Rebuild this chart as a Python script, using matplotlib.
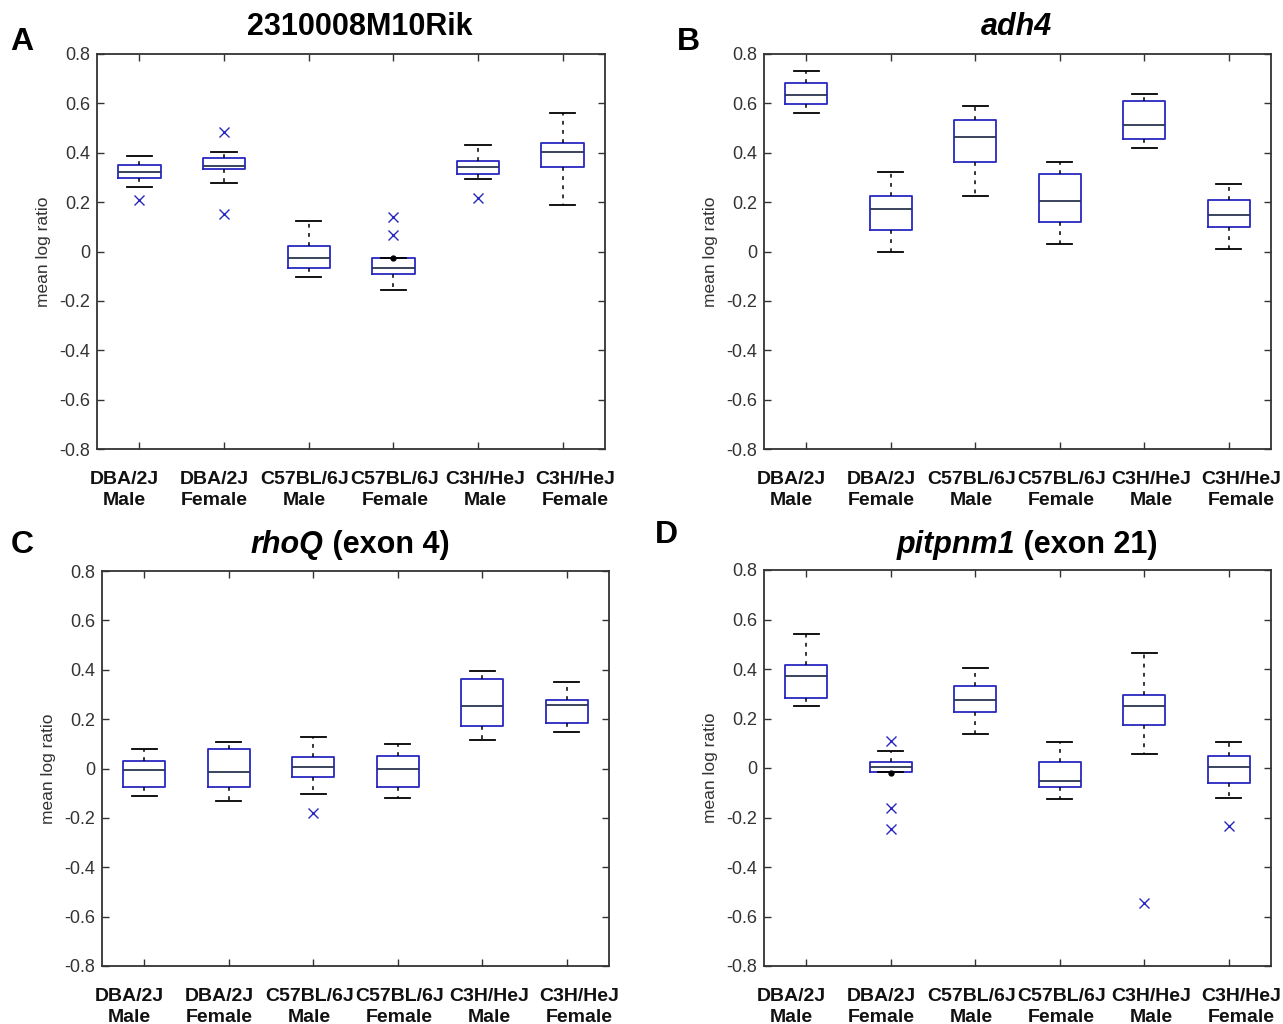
#!/usr/bin/env python
# Four panels of MATLAB-style box plots (mean log ratio per strain/sex).

import matplotlib
matplotlib.use("Agg")
import matplotlib.pyplot as plt
import matplotlib.transforms as mtransforms

plt.rcParams['font.family'] = ['Liberation Sans', 'DejaVu Sans']

groups = ["DBA/2J\nMale", "DBA/2J\nFemale", "C57BL/6J\nMale",
          "C57BL/6J\nFemale", "C3H/HeJ\nMale", "C3H/HeJ\nFemale"]

# per group: lower whisker, q1, median, q3, upper whisker
rik_stats = [(0.260, 0.296, 0.323, 0.350, 0.387),
             (0.279, 0.336, 0.347, 0.380, 0.403),
             (-0.104, -0.067, -0.026, 0.022, 0.123),
             (-0.157, -0.090, -0.067, -0.025, -0.025),
             (0.294, 0.315, 0.342, 0.368, 0.431),
             (0.190, 0.342, 0.404, 0.441, 0.562)]
rik_out = [[0.208], [0.484, 0.150], [], [0.138, 0.068], [0.218], []]
rik_dots = [[], [], [], [-0.027], [], []]

adh_stats = [(0.562, 0.598, 0.632, 0.682, 0.730),
             (0.000, 0.086, 0.174, 0.225, 0.321),
             (0.225, 0.363, 0.464, 0.531, 0.588),
             (0.031, 0.121, 0.205, 0.315, 0.363),
             (0.420, 0.457, 0.511, 0.611, 0.636),
             (0.011, 0.100, 0.148, 0.210, 0.275)]
adh_out = [[], [], [], [], [], []]
adh_dots = [[], [], [], [], [], []]

rhoq_stats = [(-0.111, -0.073, -0.008, 0.032, 0.078),
              (-0.131, -0.073, -0.016, 0.078, 0.107),
              (-0.105, -0.036, 0.005, 0.047, 0.127),
              (-0.120, -0.073, 0.000, 0.051, 0.100),
              (0.116, 0.174, 0.254, 0.362, 0.394),
              (0.147, 0.185, 0.259, 0.278, 0.352)]
rhoq_out = [[], [], [-0.182], [], [], []]
rhoq_dots = [[], [], [], [], [], []]

pit_stats = [(0.252, 0.284, 0.370, 0.415, 0.541),
             (-0.016, -0.016, 0.005, 0.026, 0.069),
             (0.138, 0.225, 0.274, 0.332, 0.405),
             (-0.126, -0.078, -0.051, 0.026, 0.105),
             (0.058, 0.174, 0.252, 0.296, 0.463),
             (-0.120, -0.059, 0.005, 0.047, 0.105)]
pit_out = [[], [0.108, -0.161, -0.246], [], [], [-0.544], [-0.234]]
pit_dots = [[], [-0.020], [], [], [], []]

panels = [("A", rik_stats, rik_out, rik_dots),
          ("B", adh_stats, adh_out, adh_dots),
          ("C", rhoq_stats, rhoq_out, rhoq_dots),
          ("D", pit_stats, pit_out, pit_dots)]

W, H = 1283, 1024
fig = plt.figure(figsize=(W / 100, H / 100), dpi=100)

# axes boxes in pixels: left, top, right, bottom
boxes = [(97, 54, 605, 449), (764, 54, 1271, 449),
         (102, 571, 609, 966), (764, 570, 1271, 966)]

blue = '#2828c0'
for (letter, stats, outs, dots), (l, t, r, b) in zip(panels, boxes):
    ax = fig.add_axes([l / W, 1 - b / H, (r - l) / W, (b - t) / H])
    bxp = []
    for s, o in zip(stats, outs):
        bxp.append(dict(whislo=s[0], q1=s[1], med=s[2], q3=s[3], whishi=s[4], fliers=o))
    ax.bxp(bxp, positions=range(1, 7), widths=0.5, capwidths=0.3,
           boxprops=dict(color=blue, linewidth=1.3),
           medianprops=dict(color='#2a3550', linewidth=1.3),
           whiskerprops=dict(color='black', linewidth=1.1, linestyle=(0, (2.5, 3.5))),
           capprops=dict(color='black', linewidth=1.3),
           flierprops=dict(marker='x', markeredgecolor=blue, markersize=7,
                           markeredgewidth=1.0, linestyle='none'))
    for i, d in enumerate(dots):
        if d:
            ax.plot([i + 1] * len(d), d, 'o', color='black', markersize=3.5)
    ax.set_xlim(0.5, 6.5)
    ax.set_ylim(-0.8, 0.8)
    ax.set_yticks([-0.8, -0.6, -0.4, -0.2, 0, 0.2, 0.4, 0.6, 0.8])
    ax.set_yticklabels(['-0.8', '-0.6', '-0.4', '-0.2', '0', '0.2', '0.4', '0.6', '0.8'])
    ax.set_xticks(range(1, 7))
    ax.set_xticklabels([])
    # group labels are spread a little wider than the ticks, as in the original
    trans = mtransforms.blended_transform_factory(ax.transData, ax.transAxes)
    for i, g in enumerate(groups):
        ax.text(0.82 + i * 1.066, -0.055, g, transform=trans, ha='center', va='top',
                fontsize=14, fontweight='bold', linespacing=1.3, color='#111111')
    ax.tick_params(axis='both', direction='in', length=5, width=1.0, color='#333333',
                   top=True, right=True)
    ax.tick_params(axis='y', labelsize=13, labelcolor='#333333', pad=5)
    for sp in ax.spines.values():
        sp.set_color('#333333')
        sp.set_linewidth(1.3)
    ax.set_ylabel("mean log ratio", fontsize=12.5, color='#333333', labelpad=6)

# panel letters
fig.text(22 / W, 1 - 42 / H, "A", fontsize=23, fontweight='bold', ha='center', va='center')
fig.text(688 / W, 1 - 42 / H, "B", fontsize=23, fontweight='bold', ha='center', va='center')
fig.text(22 / W, 1 - 545 / H, "C", fontsize=23, fontweight='bold', ha='center', va='center')
fig.text(666 / W, 1 - 535 / H, "D", fontsize=23, fontweight='bold', ha='center', va='center')

# titles
tsize = 22
fig.text(360 / W, 1 - 27 / H, "2310008M10Rik", fontsize=tsize, fontweight='bold',
         ha='center', va='center')
fig.text(1016 / W, 1 - 27 / H, "adh4", fontsize=tsize, fontweight='bold', style='italic',
         ha='center', va='center')

fig.canvas.draw()
renderer = fig.canvas.get_renderer()
for italic, rest, cx, cy in [("rhoQ", " (exon 4)", 350, 545),
                             ("pitpnm1", " (exon 21)", 1027, 545)]:
    ta = fig.text(0, 1 - cy / H, italic, fontsize=tsize, fontweight='bold',
                  style='italic', ha='left', va='center')
    tb = fig.text(0, 1 - cy / H, rest, fontsize=tsize, fontweight='bold',
                  ha='left', va='center')
    wa = ta.get_window_extent(renderer).width
    wb = tb.get_window_extent(renderer).width
    x0 = cx - (wa + wb) / 2
    ta.set_x(x0 / W)
    tb.set_x((x0 + wa) / W)

fig.savefig("out.png", dpi=100)
